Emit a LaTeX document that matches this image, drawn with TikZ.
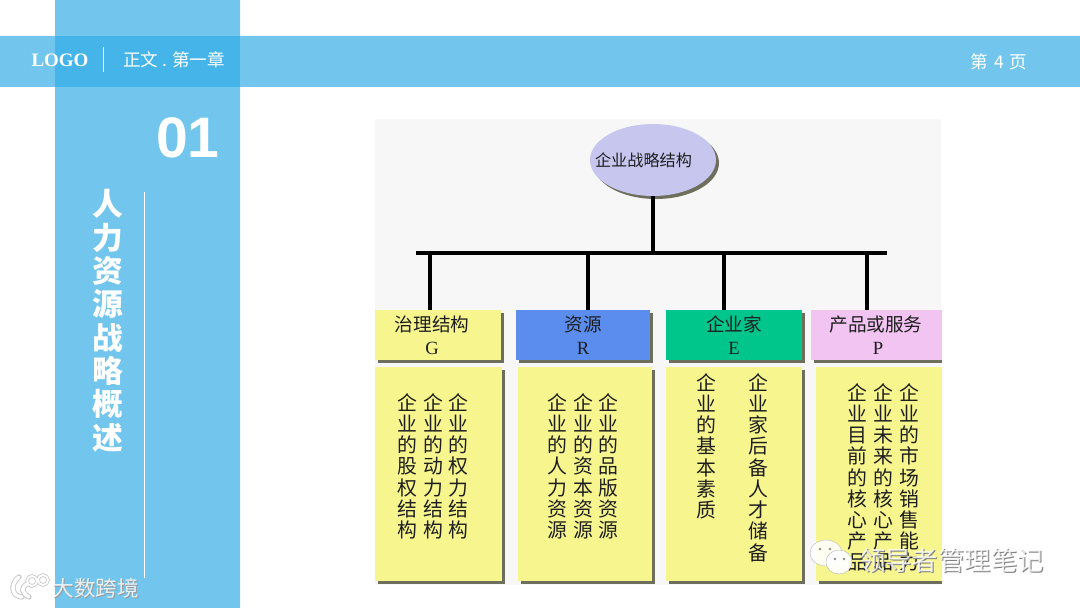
\documentclass[tikz,border=0pt]{standalone}
\usepackage{fontspec}
\usepackage{xcolor}
\setmainfont{Liberation Serif}
\newfontfamily\cjk{Noto Sans CJK SC}
\newfontfamily\arial{Liberation Sans}
\usetikzlibrary{shapes,shadows}
\definecolor{band}{HTML}{72C6EE}
\definecolor{bandmix}{HTML}{45B4E8}
\definecolor{panel}{HTML}{F7F7F7}
\definecolor{paper}{HTML}{F7F68E}
\definecolor{oval}{HTML}{C6C6EF}
\definecolor{resblue}{HTML}{5B8DEE}
\definecolor{entgreen}{HTML}{00C68C}
\definecolor{prodpink}{HTML}{F2C4F2}
\definecolor{shade}{HTML}{6E6E5C}
\definecolor{ink}{HTML}{1E1E1E}
\tikzset{
  boxshadow/.style={drop shadow={shadow xshift=0.06cm,shadow yshift=-0.06cm,fill=shade,opacity=1}},
  headbox/.style={boxshadow,minimum width=#1*0.02cm,minimum height=1cm,inner sep=0,align=center,text=ink,font=\cjk\fontsize{10.6}{13}\selectfont},
  listbox/.style={boxshadow,fill=paper,minimum width=#1*0.02cm,minimum height=4.28cm,inner sep=0},
  vcol/.style={anchor=north,inner sep=0,align=center,text=ink,font=\cjk\fontsize{11.3}{12.08}\selectfont},
  bus/.style={line width=2.2pt,black},
  mark text/.style={text=white,text opacity=0.82,inner sep=0}
}
\begin{document}
\begin{tikzpicture}[x=0.02cm,y=-0.02cm]
\useasboundingbox(0,0)rectangle(1080,608);
\fill[white](0,0)rectangle(1080,608);
\fill[band](55,0)rectangle(240,608)
(0,36)rectangle(1080,87);
\fill[bandmix](55,36)rectangle(240,87);
\draw[white,line width=0.4pt](103,47)--(103,72)
(144,192)--(144,578);
\node(logo)[text=white,inner sep=0,font=\bfseries\fontsize{10.8}{14}\selectfont]at(60,60){LOGO};
\node(chapter)[text=white,inner sep=0,font=\cjk\fontsize{10}{12}\selectfont]at(174,60){正文 . 第一章};
\node(pagenum)[text=white,inner sep=0,font=\cjk\fontsize{10}{12}\selectfont]at(999,62){第\,\,4\,\,页};
\node(secnum)[text=white,inner sep=0,font=\arial\bfseries\fontsize{32.5}{40}\selectfont]at(188,138){01};
\node(sectitle)[anchor=north,text=white,inner sep=0,align=center,font=\cjk\bfseries\fontsize{17.5}{19}\selectfont]at(108,189){人\\力\\资\\源\\战\\略\\概\\述};
\fill[panel](375,119)rectangle(941,585);
\node(root)[ellipse,boxshadow,fill=oval,minimum width=2.52cm,minimum height=1.44cm,inner sep=0]at(653,160){};
\node(rootname)[inner sep=0,text=ink,font=\cjk\fontsize{9.2}{11}\selectfont]at(643.5,160){企业战略结构};
\node(gov)[headbox=126,fill=paper]at(438,335){};
\node(govname)[inner sep=0,align=center,text=ink,font=\cjk\fontsize{10.6}{13}\selectfont]at(432,335){治理结构\\{\rmfamily G}};
\node(res)[headbox=134,fill=resblue]at(583,335){资源\\{\rmfamily R}};
\node(ent)[headbox=136,fill=entgreen]at(734,335){企业家\\{\rmfamily E}};
\node(prod)[headbox=134,fill=prodpink]at(878,335){\hspace*{-0.08cm}产品或服务\\{\rmfamily P}};
\coordinate(busl)at(416,253);
\coordinate(busr)at(887,253);
\coordinate(dropg)at(430,253);
\coordinate(dropr)at(588,253);
\coordinate(drope)at(724,253);
\coordinate(dropp)at(867,253);
\draw[bus](root)--(root|-busl);
\draw[bus](busl)--(busr);
\draw[bus](dropg)--(dropg|-gov.north);
\draw[bus](dropr)--(dropr|-res.north);
\draw[bus](drope)--(drope|-ent.north);
\draw[bus](dropp)--(dropp|-prod.north);
\node(govlist)[listbox=127]at(438.5,474){};
\node(reslist)[listbox=134]at(585,474){};
\node(entlist)[listbox=136]at(734,474){};
\node(prodlist)[listbox=126]at(879,474){};
\fill[white](942,300)rectangle(950,590);
\node(gova)[vcol]at(407,393){企\\业\\的\\股\\权\\结\\构};
\node(govb)[vcol]at(433,393){企\\业\\的\\动\\力\\结\\构};
\node(govc)[vcol]at(458,393){企\\业\\的\\权\\力\\结\\构};
\node(resa)[vcol]at(557,393){企\\业\\的\\人\\力\\资\\源};
\node(resb)[vcol]at(583,393){企\\业\\的\\资\\本\\资\\源};
\node(resc)[vcol]at(608,393){企\\业\\的\\品\\版\\资\\源};
\node(enta)[vcol]at(706,373){企\\业\\的\\基\\本\\素\\质};
\node(entb)[vcol]at(758,373){企\\业\\家\\后\\备\\人\\才\\储\\备};
\node(proda)[vcol]at(857,383){企\\业\\目\\前\\的\\核\\心\\产\\品};
\node(prodb)[vcol]at(883,383){企\\业\\未\\来\\的\\核\\心\\产\\品};
\node(prodc)[vcol]at(909,383){企\\业\\的\\市\\场\\销\\售\\能\\力};
%watermarks
\fill[white,opacity=0.9,draw=black!25,line width=0.3pt](826,553)ellipse[x radius=16,y radius=13];
\fill[white,opacity=0.95,draw=black!25,line width=0.3pt](839,562)ellipse[x radius=13,y radius=12];
\fill[black!45](820,549)circle[radius=1.3](830,549)circle[radius=1.3]
(835,559)circle[radius=1.3](844,559)circle[radius=1.3];
\node[text=black!50,inner sep=0,font=\cjk\fontsize{15}{17}\selectfont]at(952.5,561){领导者管理笔记};
\node(wechat)[mark text,font=\cjk\fontsize{15}{17}\selectfont]at(951.5,560){领导者管理笔记};
\draw[black!22,line width=3pt,line cap=round](19,577)..controls(10,584)and(11,596)..(22,597)
(27,584)..controls(21,588)and(21,592)..(29,597);
\draw[black!22,line width=2pt](32,581)circle[radius=5](43,580)circle[radius=5];
\draw[white,line width=2pt,line cap=round](19,577)..controls(10,584)and(11,596)..(22,597)
(27,584)..controls(21,588)and(21,592)..(29,597);
\draw[white,line width=1.1pt](32,581)circle[radius=5](43,580)circle[radius=5];
\node[text=black!40,inner sep=0,font=\cjk\fontsize{12.3}{14}\selectfont]at(97,589){大数跨境};
\node(brand)[mark text,font=\cjk\fontsize{12.3}{14}\selectfont]at(96,588){大数跨境};
\end{tikzpicture}
\end{document}
